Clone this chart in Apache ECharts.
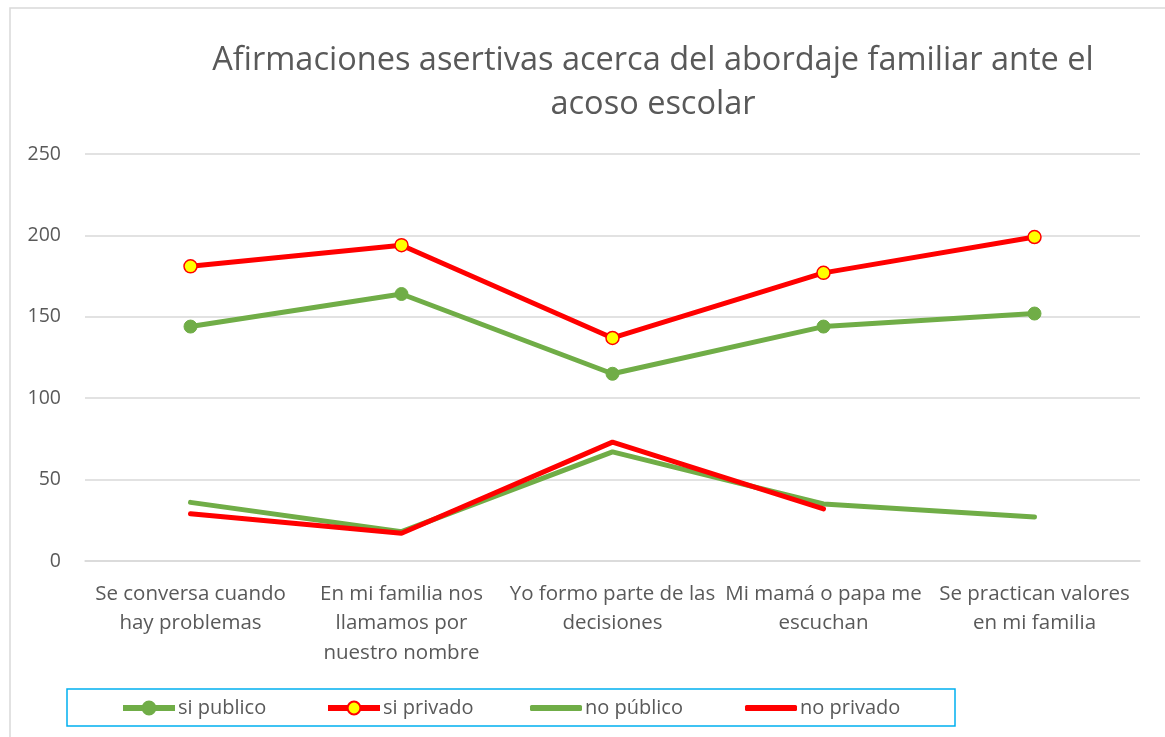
<!DOCTYPE html>
<html>
<head>
<meta charset="utf-8">
<script src="https://cdn.jsdelivr.net/npm/echarts@6/dist/echarts.min.js"></script>
<style>
  html, body { margin: 0; padding: 0; background: #fff; }
  #chart { width: 1165px; height: 737px; }
</style>
</head>
<body>
<div id="chart"></div>
<script>
// categorias (con salto de linea como en el original)
var categories = [
  'Se conversa cuando\nhay problemas',
  'En mi familia nos\nllamamos por\nnuestro nombre',
  'Yo formo parte de las\ndecisiones',
  'Mi mamá o papa me\nescuchan',
  'Se practican valores\nen mi familia'
];
var siPublico = [144, 164, 115, 144, 152];
var siPrivado = [181, 194, 137, 177, 199];
var noPublico = [36, 18, 67, 35, 27];
var noPrivado = [29, 17, 73, 32, null];
var yTicks = [0, 50, 100, 150, 200, 250];

var FONT = '"Open Sans", sans-serif';
var TXT = '#595959';
var GREEN = '#70ad47';
var RED = '#ff0000';

var chart = echarts.init(document.getElementById('chart'));

function legendAt(name, left, plain) {
  var item = { name: name };
  if (plain) {
    item.icon = 'roundRect';
  }
  return {
    data: [item],
    left: left,
    top: 698,
    padding: 0,
    itemWidth: 52,
    itemHeight: plain ? 6 : 16,
    itemGap: 0,
    lineStyle: { width: 6 },
    textStyle: { fontFamily: FONT, fontSize: 20, color: TXT, padding: [0, 0, 0, -2] },
    selectedMode: false
  };
}

var option = {
  animation: false,
  backgroundColor: '#fff',
  title: {
    text: 'Afirmaciones asertivas acerca del abordaje familiar ante el\nacoso escolar',
    left: 648,
    top: 34,
    textAlign: 'center',
    textStyle: { fontFamily: FONT, fontSize: 32.5, fontWeight: 'normal', color: TXT, lineHeight: 44, align: 'center' }
  },
  graphic: [
    { type: 'rect', shape: { x: 10, y: 8, width: 1200, height: 800 }, style: { fill: 'none', stroke: '#d9d9d9', lineWidth: 1.5 }, z: -1 },
    { type: 'rect', shape: { x: 67, y: 689, width: 888, height: 37 }, style: { fill: 'none', stroke: '#00b0f0', lineWidth: 1.5 }, z: -1 }
  ],
  grid: { left: 85, right: 25, top: 154, bottom: 176, containLabel: false },
  legend: [
    legendAt('si publico', 120, false),
    legendAt('si privado', 325, false),
    legendAt('no público', 530, true),
    legendAt('no privado', 745, true)
  ],
  xAxis: {
    type: 'category',
    data: categories,
    boundaryGap: true,
    axisLine: { lineStyle: { color: '#d9d9d9', width: 1.5 } },
    axisTick: { show: false },
    axisLabel: { fontFamily: FONT, fontSize: 20.5, color: TXT, lineHeight: 29.5, margin: 18, interval: 0 }
  },
  yAxis: {
    type: 'value',
    min: 0,
    max: 250,
    interval: 50,
    axisLine: { show: false },
    axisTick: { show: false },
    splitLine: { lineStyle: { color: '#d9d9d9', width: 1.5 } },
    axisLabel: {
      fontFamily: FONT, fontSize: 19.5, color: TXT, margin: 24,
      formatter: function (v) { return yTicks.indexOf(v) >= 0 ? String(v) : ''; }
    }
  },
  series: [
    {
      name: 'si publico', type: 'line', data: siPublico,
      symbol: 'circle', symbolSize: 13,
      lineStyle: { color: GREEN, width: 5 },
      itemStyle: { color: GREEN, borderColor: GREEN, borderWidth: 1 },
      z: 3
    },
    {
      name: 'si privado', type: 'line', data: siPrivado,
      symbol: 'circle', symbolSize: 13,
      lineStyle: { color: RED, width: 5 },
      itemStyle: { color: '#ffff00', borderColor: RED, borderWidth: 1.5 },
      z: 4
    },
    {
      name: 'no público', type: 'line', data: noPublico,
      symbol: 'none', connectNulls: false,
      lineStyle: { color: GREEN, width: 5, cap: 'round' },
      itemStyle: { color: GREEN },
      z: 2
    },
    {
      name: 'no privado', type: 'line', data: noPrivado,
      symbol: 'none', connectNulls: false,
      lineStyle: { color: RED, width: 5, cap: 'round' },
      itemStyle: { color: RED },
      z: 3
    }
  ]
};

chart.setOption(option);
</script>
</body>
</html>
